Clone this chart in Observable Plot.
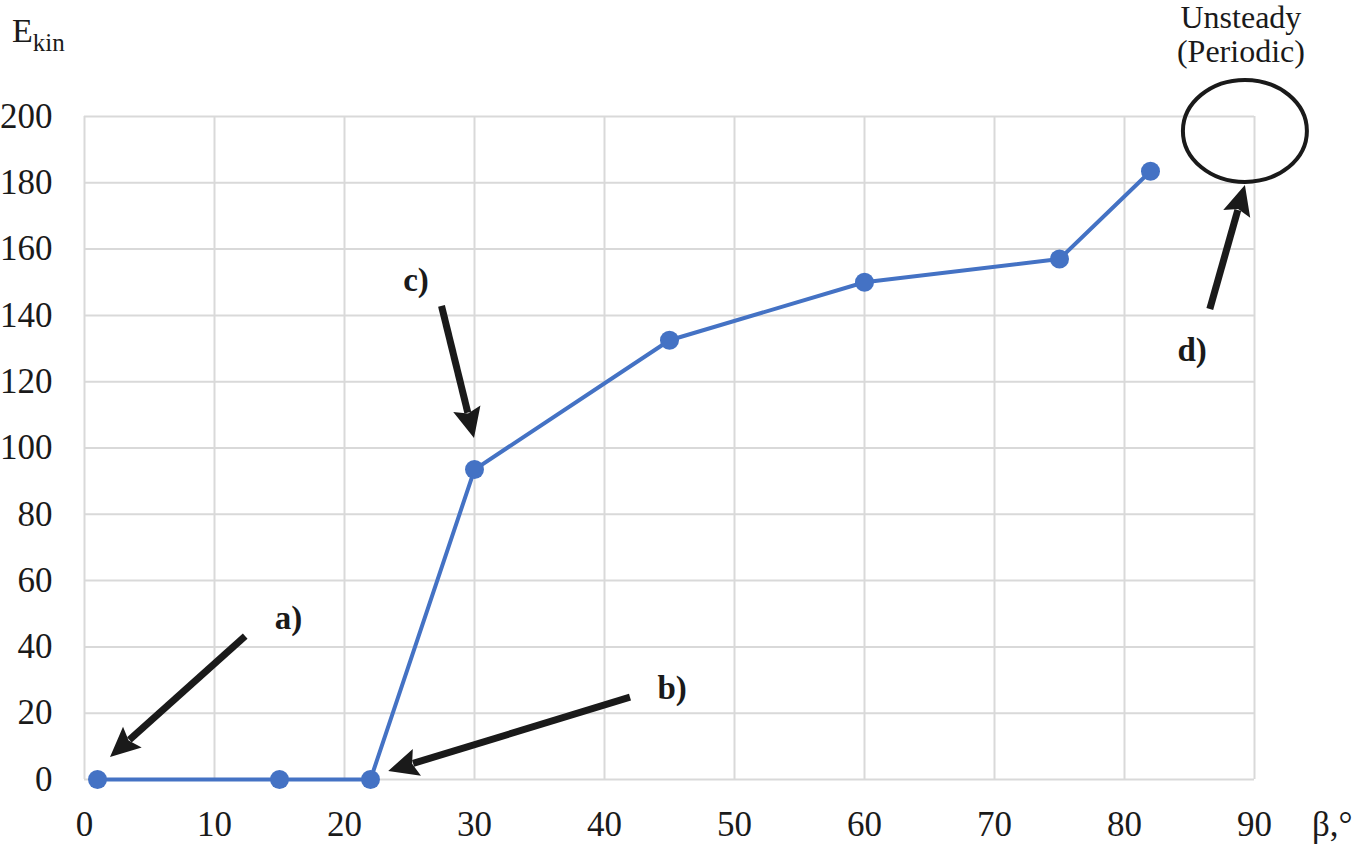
<!DOCTYPE html>
<html>
<head>
<meta charset="utf-8">
<script src="https://cdn.jsdelivr.net/npm/d3@7"></script>
<script src="https://cdn.jsdelivr.net/npm/@observablehq/plot@0.6"></script>
<style>
  html, body { margin: 0; padding: 0; background: #fff; }
  #chart { position: relative; width: 1360px; height: 844px; }
</style>
</head>
<body>
<div id="chart"></div>
<script>
// Data
const beta = [1, 15, 22, 30, 45, 60, 75, 82];
const ekin = [0, 0, 0, 93.5, 132.5, 150, 157, 183.5];
const xTicks = [0, 10, 20, 30, 40, 50, 60, 70, 80, 90];
const yTicks = [0, 20, 40, 60, 80, 100, 120, 140, 160, 180, 200];
// Annotation arrows (data coordinates): start -> tip
const arrowLabels = ["a)", "b)", "c)", "d)"];
const arrowX1 = [12.4, 42.0, 27.5, 86.6];
const arrowY1 = [43.1, 24.7, 142.7, 141.8];
const arrowX2 = [2.0, 23.4, 30.0, 89.3];
const arrowY2 = [6.6, 2.4, 102.9, 179.2];
const labelX = [15.7, 45.2, 25.5, 85.2];
const labelY = [48.5, 27.5, 150.5, 129.5];
// Unsteady region marker
const ellipseX = 89.3, ellipseY = 195.5;

const points = beta.map((b, i) => ({beta: b, ekin: ekin[i]}));
const arrows = arrowLabels.map((l, i) => ({label: l, x1: arrowX1[i], y1: arrowY1[i], x2: arrowX2[i], y2: arrowY2[i], lx: labelX[i], ly: labelY[i]}));

const serif = "Liberation Serif, Times New Roman, serif";
const blue = "#4472C4";
const ink = "#1a1a1a";

const plot = Plot.plot({
  width: 1360,
  height: 844,
  marginLeft: 84,
  marginRight: 106,
  marginTop: 116,
  marginBottom: 65,
  style: {fontFamily: serif, fontSize: "35px", color: ink, background: "white", overflow: "visible"},
  x: {domain: [0, 90], axis: null},
  y: {domain: [0, 200], axis: null},
  marks: [
    Plot.gridX(xTicks, {stroke: "#d9d9d9", strokeOpacity: 1, strokeWidth: 2}),
    Plot.gridY(yTicks, {stroke: "#d9d9d9", strokeOpacity: 1, strokeWidth: 2}),
    Plot.text(xTicks, {x: d => d, y: 0, text: d => String(d), dy: 45, fontSize: 35, fontFamily: serif, fill: ink}),
    Plot.text(yTicks, {x: 0, y: d => d, text: d => String(d), dx: -32, textAnchor: "end", fontSize: 35, fontFamily: serif, fill: ink}),
    Plot.line(points, {x: "beta", y: "ekin", stroke: blue, strokeWidth: 4}),
    Plot.dot(points, {x: "beta", y: "ekin", r: 9.5, fill: blue, stroke: "none"}),
    Plot.text(arrows, {x: "lx", y: "ly", text: "label", fontWeight: "bold", fontSize: 33, fontFamily: serif, fill: ink})
  ]
});

document.getElementById("chart").appendChild(plot);

const sx = plot.scale("x"), sy = plot.scale("y");
const svg = d3.select(plot);

// arrows: shaft + filled triangular head, positioned with the plot's scales
const headLen = 30, headHalf = 14;
const ga = svg.append("g");
for (const d of arrows) {
  const x1 = sx.apply(d.x1), y1 = sy.apply(d.y1);
  const x2 = sx.apply(d.x2), y2 = sy.apply(d.y2);
  const dx = x2 - x1, dy = y2 - y1, L = Math.hypot(dx, dy);
  const ux = dx / L, uy = dy / L;
  const bx = x2 - ux * headLen, by = y2 - uy * headLen;
  ga.append("line")
    .attr("x1", x1).attr("y1", y1)
    .attr("x2", bx + ux * 4).attr("y2", by + uy * 4)
    .attr("stroke", ink).attr("stroke-width", 7);
  ga.append("path")
    .attr("d", `M${x2},${y2} L${bx - uy * headHalf},${by + ux * headHalf} L${bx + ux * 5},${by + uy * 5} L${bx + uy * headHalf},${by - ux * headHalf} Z`)
    .attr("fill", ink);
}

// ellipse
svg.append("ellipse")
  .attr("cx", sx.apply(ellipseX)).attr("cy", sy.apply(ellipseY))
  .attr("rx", 62).attr("ry", 51)
  .attr("fill", "none").attr("stroke", ink).attr("stroke-width", 4);

// annotation text
const cx = sx.apply(ellipseX) - 4;
const t = svg.append("text")
  .attr("text-anchor", "middle")
  .attr("font-family", serif).attr("font-size", 32).attr("fill", ink);
t.append("tspan").attr("x", cx).attr("y", 28).text("Unsteady");
t.append("tspan").attr("x", cx).attr("y", 62).text("(Periodic)");

// axis titles
const yl = svg.append("text").attr("x", 12).attr("y", 42).attr("text-anchor", "start")
  .attr("font-family", serif).attr("font-size", 34).attr("fill", ink);
yl.append("tspan").text("E");
yl.append("tspan").attr("font-size", 25).attr("dy", 9).text("kin");

svg.append("text").attr("x", 1312).attr("y", 836).attr("text-anchor", "start")
  .attr("font-family", serif).attr("font-size", 35).attr("fill", ink)
  .text("β,°");
</script>
</body>
</html>
